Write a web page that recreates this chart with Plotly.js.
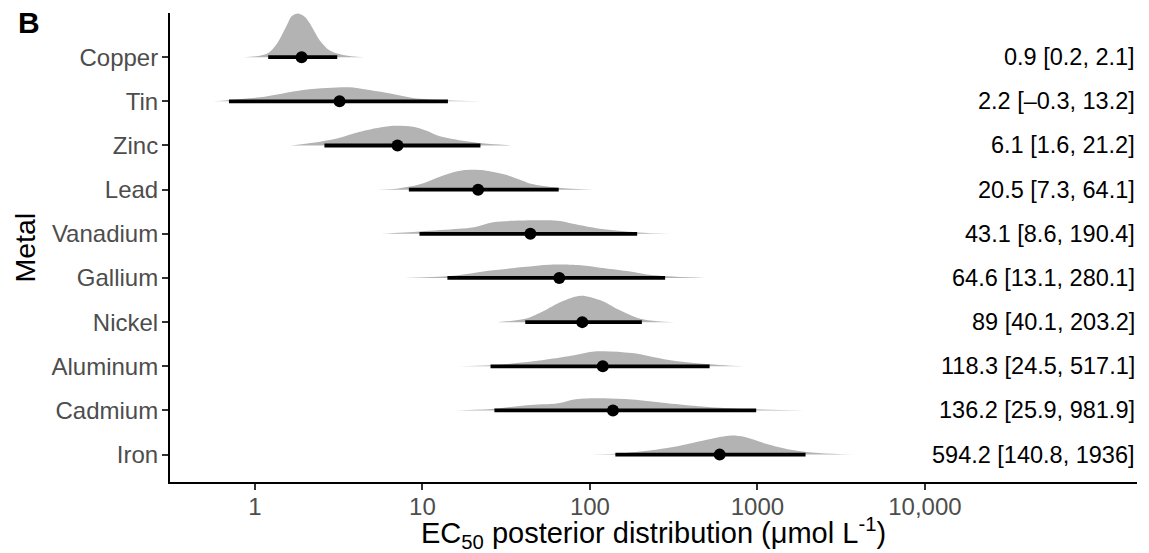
<!DOCTYPE html>
<html>
<head>
<meta charset="utf-8">
<script src="https://cdn.plot.ly/plotly-3.0.1.min.js"></script>
<style>
  html, body { margin: 0; padding: 0; background: #ffffff; }
  #chart { width: 1149px; height: 553px; }
</style>
</head>
<body>
<div id="chart"></div>
<script>
// ---- data ----
const metals = ["Copper", "Tin", "Zinc", "Lead", "Vanadium", "Gallium", "Nickel", "Aluminum", "Cadmium", "Iron"];
const median = [0.9, 2.2, 6.1, 20.5, 43.1, 64.6, 89, 118.3, 136.2, 594.2];
const lower  = [0.2, -0.3, 1.6, 7.3, 8.6, 13.1, 40.1, 24.5, 25.9, 140.8];
const upper  = [2.1, 13.2, 21.2, 64.1, 190.4, 280.1, 203.2, 517.1, 981.9, 1936];
const axisOffset = 1; // the x scale is log10(EC50 + 1)

const tickVals = [1, 10, 100, 1000, 10000];
const tickText = ["1", "10", "100", "1000", "10,000"];

// posterior density outlines: positions on the x scale (EC50 + 1) and relative heights
const densCopperX   = [0.86, 1.18, 1.35, 1.55, 1.66, 1.81, 1.99, 2.13, 2.44, 2.80, 3.35, 4.48];
const densCopperH   = [0, 0.075, 0.30, 0.72, 0.93, 0.99, 0.91, 0.76, 0.38, 0.15, 0.05, 0];
const densTinX      = [0.56, 0.74, 1.07, 1.94, 2.69, 3.69, 4.41, 5.35, 6.67, 8.78, 14.0, 24.9];
const densTinH      = [0, 0.038, 0.09, 0.256, 0.30, 0.316, 0.278, 0.226, 0.165, 0.075, 0.023, 0];
const densZincX     = [1.62, 2.22, 3.09, 4.24, 5.58, 6.67, 8.78, 10.6, 12.2, 14.6, 21.2, 34.2];
const densZincH     = [0, 0.061, 0.158, 0.31, 0.407, 0.445, 0.423, 0.333, 0.233, 0.158, 0.061, 0];
const densLeadX     = [5.35, 7.04, 9.66, 13.3, 17.2, 23.6, 30.7, 38.2, 44.4, 64.4, 105.6];
const densLeadH     = [0, 0.023, 0.12, 0.323, 0.436, 0.436, 0.346, 0.226, 0.135, 0.045, 0];
const densVanadiumX = [5.65, 9.66, 16.4, 20.3, 26.4, 34.2, 64.4, 79.1, 114.8, 193.6, 300.4];
const densVanadiumH = [0, 0.053, 0.113, 0.15, 0.263, 0.293, 0.293, 0.226, 0.113, 0.03, 0];
const densGalliumX  = [7.76, 14.8, 26.4, 40.1, 57.7, 88.3, 114.8, 166.3, 241, 486];
const densGalliumH  = [0, 0.045, 0.173, 0.248, 0.30, 0.286, 0.233, 0.158, 0.06, 0];
const densNickelX   = [28.0, 42.3, 52.2, 67.9, 88.3, 114.8, 149, 194.5, 253, 320.5];
const densNickelH   = [0, 0.09, 0.24, 0.466, 0.60, 0.50, 0.278, 0.09, 0.02, 0];
const densAluminumX = [16.6, 25.6, 45.9, 74.5, 109.8, 178, 289, 470, 842];
const densAluminumH = [0, 0.023, 0.113, 0.226, 0.338, 0.30, 0.15, 0.06, 0];
const densCadmiumX  = [15.8, 26.9, 41.7, 64.4, 82.2, 121, 178, 289, 470, 764, 1919];
const densCadmiumH  = [0, 0.038, 0.12, 0.165, 0.256, 0.278, 0.248, 0.165, 0.09, 0.038, 0];
const densIronX     = [85.4, 147, 289, 470, 676, 842, 1124, 1581, 2329, 3768];
const densIronH     = [0, 0.023, 0.15, 0.316, 0.43, 0.40, 0.248, 0.113, 0.038, 0];

const densX = [densCopperX, densTinX, densZincX, densLeadX, densVanadiumX, densGalliumX, densNickelX, densAluminumX, densCadmiumX, densIronX];
const densH = [densCopperH, densTinH, densZincH, densLeadH, densVanadiumH, densGalliumH, densNickelH, densAluminumH, densCadmiumH, densIronH];

// ---- build traces ----
const n = metals.length;
const rowOf = i => n - i; // Copper on top
const FONT = "Liberation Sans, Arial, Helvetica, sans-serif";

const traces = [];
for (let i = 0; i < n; i++) {
  traces.push({
    type: "scatter", mode: "lines",
    x: densX[i],
    y: densH[i].map(h => rowOf(i) + h),
    fill: "toself",
    fillcolor: "rgb(179,179,179)",
    line: { width: 0, shape: "spline", smoothing: 0.9, color: "rgb(179,179,179)" },
    hoverinfo: "skip", showlegend: false
  });
}

const ix = [], iy = [];
for (let i = 0; i < n; i++) {
  ix.push(lower[i] + axisOffset, upper[i] + axisOffset, null);
  iy.push(rowOf(i), rowOf(i), null);
}
traces.push({
  type: "scatter", mode: "lines", x: ix, y: iy,
  line: { color: "#000000", width: 3.8 },
  hoverinfo: "skip", showlegend: false
});
traces.push({
  type: "scatter", mode: "markers",
  x: median.map(v => v + axisOffset),
  y: metals.map((m, i) => rowOf(i)),
  marker: { color: "#000000", size: 12 },
  hoverinfo: "skip", showlegend: false
});

const fmt = v => String(v).replace("-", "\u2013");
const annotations = metals.map((m, i) => ({
  xref: "paper", yref: "y", x: 1, y: rowOf(i),
  xanchor: "right", yanchor: "middle", showarrow: false,
  text: fmt(median[i]) + " [" + fmt(lower[i]) + ", " + fmt(upper[i]) + "]",
  font: { family: FONT, size: 23.5, color: "#000000" }
}));
annotations.push({
  xref: "paper", yref: "paper", x: -0.1595, y: 0.979,
  xanchor: "left", yanchor: "middle", showarrow: false,
  text: "<b>B</b>", font: { family: FONT, size: 30, color: "#000000" }
});
annotations.push({
  xref: "paper", yref: "paper", x: (24 - 170) / 967, y: 0.5,
  xanchor: "center", yanchor: "middle", showarrow: false, textangle: -90,
  text: "Metal", font: { family: FONT, size: 28.5, color: "#000000" }
});
annotations.push({
  xref: "paper", yref: "paper", x: 0.5, y: (482 - 533) / 469,
  xanchor: "center", yanchor: "middle", showarrow: false,
  text: "EC<sub>50</sub> posterior distribution (\u03bcmol L<sup>-1</sup>)",
  font: { family: FONT, size: 29, color: "#000000" }
});

const layout = {
  width: 1149, height: 553,
  margin: { l: 170, r: 12, t: 13, b: 71 },
  paper_bgcolor: "#ffffff", plot_bgcolor: "#ffffff",
  showlegend: false,
  font: { family: FONT },
  xaxis: {
    type: "log", range: [-0.507, 5.266],
    tickmode: "array", tickvals: tickVals, ticktext: tickText,
    ticks: "outside", ticklen: 6, tickwidth: 2, tickcolor: "#333333",
    ticklabelstandoff: -4,
    showline: true, linecolor: "#000000", linewidth: 2,
    showgrid: false, zeroline: false,
    tickfont: { family: FONT, size: 24, color: "#4d4d4d" },
    fixedrange: true
  },
  yaxis: {
    range: [0.38, 11.0],
    tickmode: "array",
    tickvals: metals.map((m, i) => rowOf(i)),
    ticktext: metals,
    ticks: "outside", ticklen: 6, tickwidth: 2, tickcolor: "#333333",
    ticklabelstandoff: -1,
    showline: true, linecolor: "#000000", linewidth: 2,
    showgrid: false, zeroline: false,
    tickfont: { family: FONT, size: 24, color: "#4d4d4d" },
    fixedrange: true
  },
  annotations: annotations
};

Plotly.newPlot("chart", traces, layout, { staticPlot: true, displayModeBar: false });
</script>
</body>
</html>
